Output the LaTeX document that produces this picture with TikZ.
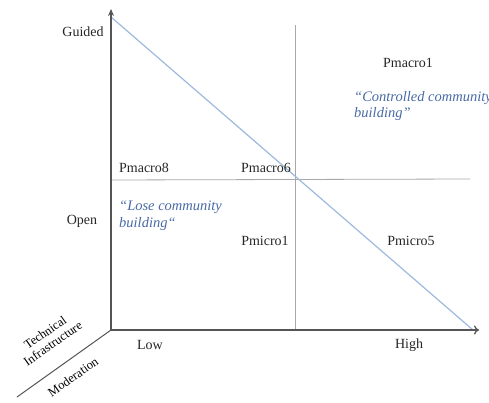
\documentclass[tikz,border=0pt]{standalone}
\usepackage{fontspec}
\setmainfont{Liberation Serif}
\usetikzlibrary{arrows.meta}
\definecolor{axisgray}{HTML}{555555}
\definecolor{gridgray}{HTML}{A8A8A8}
\definecolor{diagblue}{HTML}{9DB9DD}
\definecolor{quoteblue}{HTML}{4A6AA5}
\begin{document}
\begin{tikzpicture}[x=1pt,y=-1pt,
  lbl/.style={inner sep=0pt,font=\fontsize{14}{16}\selectfont,text=black!85},
  quote/.style={inner sep=0pt,align=left,font=\fontsize{14.5}{16.5}\selectfont\itshape,text=quoteblue},
  axislbl/.style={inner sep=0pt,align=center,rotate=35,font=\fontsize{12.5}{13.5}\selectfont},
  axisline/.style={draw=axisgray,line width=1.3pt},
  gridline/.style={draw=gridgray,line width=0.8pt},
  diagline/.style={draw=diagblue,line width=1.2pt}]
\useasboundingbox (0,0) rectangle (489,403);
% coordinates
\coordinate (O) at (111,330);
\coordinate (Ytop) at (111,9);
\coordinate (Xend) at (479,330);
\coordinate (Dstart) at (111,17);
\coordinate (Dend) at (473,330);
\coordinate (Vtop) at (295,25);
\coordinate (Vbot) at (295,330);
\coordinate (Hl) at (111,180);
\coordinate (Hr) at (470,179);
\coordinate (Bl) at (17,397);
% lines
\draw[gridline] (Vtop) -- (Vbot);
\draw[gridline] (Hl) -- (Hr);
\draw[diagline] (Dstart) -- (Dend);
\draw[axisline,-{Stealth[length=7pt,width=6pt]}] (O) -- (Ytop);
\draw[axisline,-{To[length=5pt,width=9pt]}] (O) -- (Xend);
\draw[draw=axisgray,line width=1pt] (O) -- (Bl);
% labels
\node[lbl] (guided) at (83,32) {Guided};
\node[lbl] (open) at (82,221) {Open};
\node[lbl] (low) at (150,345) {Low};
\node[lbl] (high) at (409,345) {High};
\node[lbl] (pma1) at (408,63) {Pmacro1};
\node[lbl] (pma8) at (144,168) {Pmacro8};
\node[lbl] (pma6) at (266,168) {Pmacro6};
\node[lbl] (pmi1) at (265,241) {Pmicro1};
\node[lbl] (pmi5) at (411,241) {Pmicro5};
\node[quote,anchor=north west] (q1) at (354,91) {“Controlled community\\building”};
\node[quote,anchor=north west] (q2) at (119,201) {“Lose community\\building“};
\node[axislbl] (tech) at (49,338) {Technical\\Infrastructure};
\node[axislbl] (mod) at (73,377) {Moderation};
\end{tikzpicture}
\end{document}
